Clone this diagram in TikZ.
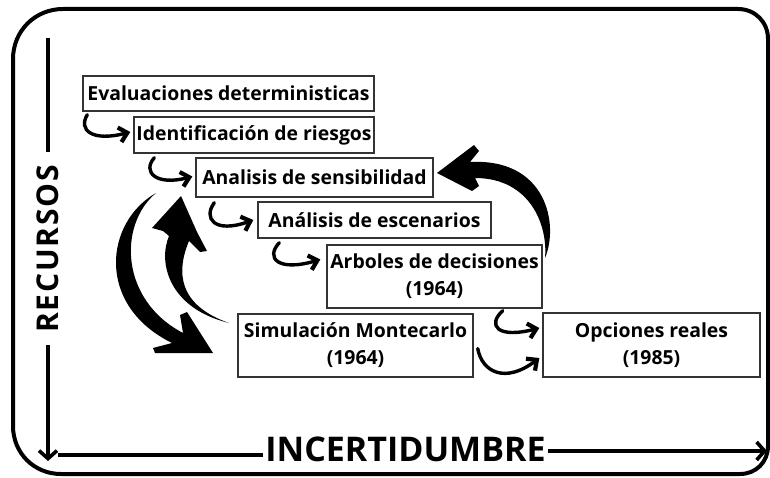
\documentclass[tikz,border=0pt]{standalone}
\usepackage{fontspec}
\setmainfont{Open Sans}
\usetikzlibrary{arrows.meta,calc}
\definecolor{boxgray}{HTML}{333333}
\begin{document}
\begin{tikzpicture}[x=1pt,y=-1pt,
  box/.style={draw=boxgray, line width=1.4pt, inner sep=0pt, align=center,
    font=\fontsize{19.4}{27}\selectfont\bfseries, text=black},
  hook/.style={line width=3.4pt, line cap=round,
    -{Straight Barb[length=8pt,width=15pt,line width=4.2pt]}},
  bigarrow/.style={fill=black, draw=none},
  axisline/.style={line width=3.6pt},
  axistip/.style={-{Straight Barb[length=8pt,width=18pt]}}]
\useasboundingbox (0,0) rectangle (770,478);
% frame
\draw[line width=4pt]
  (13,59) .. controls (13,31) and (35,9) .. (63,9) -- (738,9)
  .. controls (755,9) and (768,22) .. (768,39) -- (768,446)
  .. controls (768,462) and (756,474) .. (740,474) -- (61,474)
  .. controls (34,474) and (13,453) .. (13,426) -- cycle;
% boxes
\node[box, minimum width=291pt, minimum height=35pt] (b1) at (228.5,93.5) {Evaluaciones deterministicas};
\node[box, minimum width=240pt, minimum height=36pt] (b2) at (254,135) {Identificación de riesgos};
\node[box, minimum width=237pt, minimum height=39pt] (b3) at (314.5,177.5) {Analisis de sensibilidad};
\node[box, minimum width=233pt, minimum height=36pt] (b4) at (374.5,220) {Análisis de escenarios};
\node[box, minimum width=215pt, minimum height=63pt] (b5) at (434.5,276.5) {Arboles de decisiones\\(1964)};
\node[box, minimum width=235pt, minimum height=63pt] (b6) at (355.5,345.5) {Simulación Montecarlo\\(1964)};
\node[box, minimum width=217pt, minimum height=64pt] (b7) at (651.5,345) {Opciones reales\\(1985)};
% small hook arrows
\draw[hook] ($(b1.south west)+(5,3)$) .. controls (78,130) and (92,142) .. ($(b2.west)+(-3,-3)$);
\draw[hook] ($(b2.south west)+(21,4)$) .. controls (142,172) and (156,186) .. ($(b3.west)+(-3,-1)$);
\draw[hook] ($(b3.south west)+(19,5)$) .. controls (203,218) and (214,234) .. ($(b4.west)+(-4,0)$);
\draw[hook] ($(b4.south west)+(22,4)$) .. controls (265,258) and (278,272) .. ($(b5.west)+(-6,-17)$);
\draw[hook] ($(b5.south east)+(-40,2)$) .. controls (487,325) and (497,339) .. ($(b7.west)+(-3,-17)$);
\draw[hook] ($(b6.east)+(4,3)$) .. controls (482,372) and (505,384) .. ($(b7.west)+(-3,13)$);
% big arrows
\fill[bigarrow] (545,258) .. controls (559,225) and (547,158) .. (470,162)
  -- (479,151) -- (474,145) -- (437,173) -- (472,191) -- (479,186) -- (475,178)
  .. controls (530,178) and (548,225) .. (545,258) -- cycle;
\fill[bigarrow] (156,193) .. controls (105,222) and (95,305) .. (172,343)
  -- (153,348) -- (155,353) -- (213,353) -- (187,312) -- (180,315) -- (183,333)
  .. controls (120,300) and (118,225) .. (156,193) -- cycle;
\fill[bigarrow] (229,323) .. controls (168,308) and (158,262) .. (169,236)
  -- (163,231) -- (152,228) -- (181,196) -- (197,232) -- (207,251) -- (200,252) -- (189,241)
  .. controls (176,272) and (178,305) .. (229,323) -- cycle;
% axes
\coordinate (vtop) at (48,38);
\coordinate (vmid) at (48,152);
\coordinate (vlow) at (48,345);
\coordinate (vend) at (48,461);
\node[rotate=90, font=\fontsize{30}{32}\selectfont\bfseries\addfontfeature{LetterSpace=6}, inner sep=0pt] (rec) at (48,249) {RECURSOS};
\draw[axisline] (vtop) -- (vmid);
\draw[axisline, axistip] (vlow) -- (vend);
\node[font=\fontsize{34}{36}\selectfont\bfseries, inner sep=0pt] (inc) at (405.5,449.5) {INCERTIDUMBRE};
\coordinate (hstart) at (58,455);
\coordinate (hleft) at (263,455);
\coordinate (hright) at (548,451);
\coordinate (hend) at (767,451);
\draw[axisline] (hstart) -- (hleft);
\draw[axisline, axistip] (hright) -- (hend);
\end{tikzpicture}
\end{document}
